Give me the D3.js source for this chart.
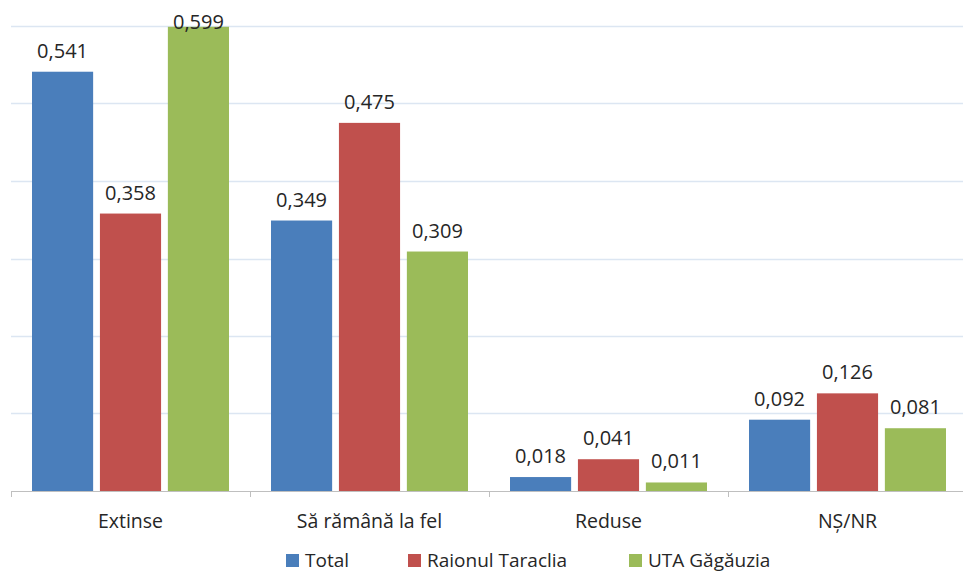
<!DOCTYPE html>
<html>
<head>
<meta charset="utf-8">
<script src="https://cdn.jsdelivr.net/npm/d3@7"></script>
<style>
  html, body { margin: 0; padding: 0; background: #fff; }
  svg text { font-family: "Open Sans", "Liberation Sans", sans-serif; fill: #262626; }
</style>
</head>
<body>
<svg id="chart" width="963" height="572"></svg>
<script>
// Categories and series
const categories = ["Extinse", "Să rămână la fel", "Reduse", "NȘ/NR"];
const seriesNames = ["Total", "Raionul Taraclia", "UTA Găgăuzia"];
const seriesColors = ["#4a7ebb", "#c0504d", "#9bbb59"];
const totalValues = [0.541, 0.349, 0.018, 0.092];
const taracliaValues = [0.358, 0.475, 0.041, 0.126];
const gagauziaValues = [0.599, 0.309, 0.011, 0.081];
const yTicks = [0, 0.1, 0.2, 0.3, 0.4, 0.5, 0.6];

const seriesValues = [totalValues, taracliaValues, gagauziaValues];
const fmt = v => d3.format(".3f")(v).replace(".", ",");

const svg = d3.select("#chart");
const plot = { left: 11, right: 967, top: 26, bottom: 491 };

const x0 = d3.scaleBand().domain(categories).range([plot.left, plot.right]).paddingInner(0).paddingOuter(0);
const x1 = d3.scaleBand().domain(seriesNames).range([21, x0.bandwidth() - 21]).paddingInner(0.1).paddingOuter(0);
const y = d3.scaleLinear().domain([0, 0.6]).range([plot.bottom, plot.top]);

// Horizontal gridlines
svg.append("g")
  .selectAll("line")
  .data(yTicks.slice(1))
  .join("line")
  .attr("x1", plot.left).attr("x2", plot.right)
  .attr("y1", d => Math.round(y(d)) + 0.5).attr("y2", d => Math.round(y(d)) + 0.5)
  .attr("stroke", "#dce6f2").attr("stroke-width", 1.5);

// Bars
const groups = svg.append("g")
  .selectAll("g")
  .data(categories)
  .join("g")
  .attr("transform", d => `translate(${x0(d)},0)`);

groups.selectAll("rect")
  .data((c, i) => seriesNames.map((s, k) => ({ s, k, v: seriesValues[k][i] })))
  .join("rect")
  .attr("x", d => x1(d.s))
  .attr("width", x1.bandwidth())
  .attr("y", d => y(d.v))
  .attr("height", d => plot.bottom - y(d.v))
  .attr("fill", d => seriesColors[d.k]);

// Value labels
groups.selectAll("text")
  .data((c, i) => seriesNames.map((s, k) => ({ s, k, v: seriesValues[k][i] })))
  .join("text")
  .attr("x", d => x1(d.s) + x1.bandwidth() / 2)
  .attr("y", d => Math.max(y(d.v) - 14, 29))
  .attr("text-anchor", "middle")
  .attr("font-size", 20)
  .text(d => fmt(d.v));

// Category axis
const xAxis = svg.append("g").attr("transform", `translate(0,${plot.bottom})`);
xAxis.append("line")
  .attr("x1", plot.left).attr("x2", plot.right)
  .attr("y1", 0.5).attr("y2", 0.5)
  .attr("stroke", "#bfbfbf");
xAxis.selectAll("line.tick")
  .data(categories.map(c => x0(c)).concat([plot.right]))
  .join("line")
  .attr("class", "tick")
  .attr("x1", d => d + 0.5).attr("x2", d => d + 0.5)
  .attr("y1", 0).attr("y2", 6)
  .attr("stroke", "#bfbfbf");
xAxis.selectAll("text")
  .data(categories)
  .join("text")
  .attr("x", d => x0(d) + x0.bandwidth() / 2)
  .attr("y", 37)
  .attr("text-anchor", "middle")
  .attr("font-size", 19.5)
  .text(d => d);

// Legend
const legendX = [286, 408, 629];
const legend = svg.append("g");
seriesNames.forEach((s, k) => {
  legend.append("rect")
    .attr("x", legendX[k]).attr("y", 554)
    .attr("width", 13).attr("height", 13)
    .attr("fill", seriesColors[k]);
  legend.append("text")
    .attr("x", legendX[k] + 19).attr("y", 567)
    .attr("font-size", 19)
    .text(s);
});
</script>
</body>
</html>
